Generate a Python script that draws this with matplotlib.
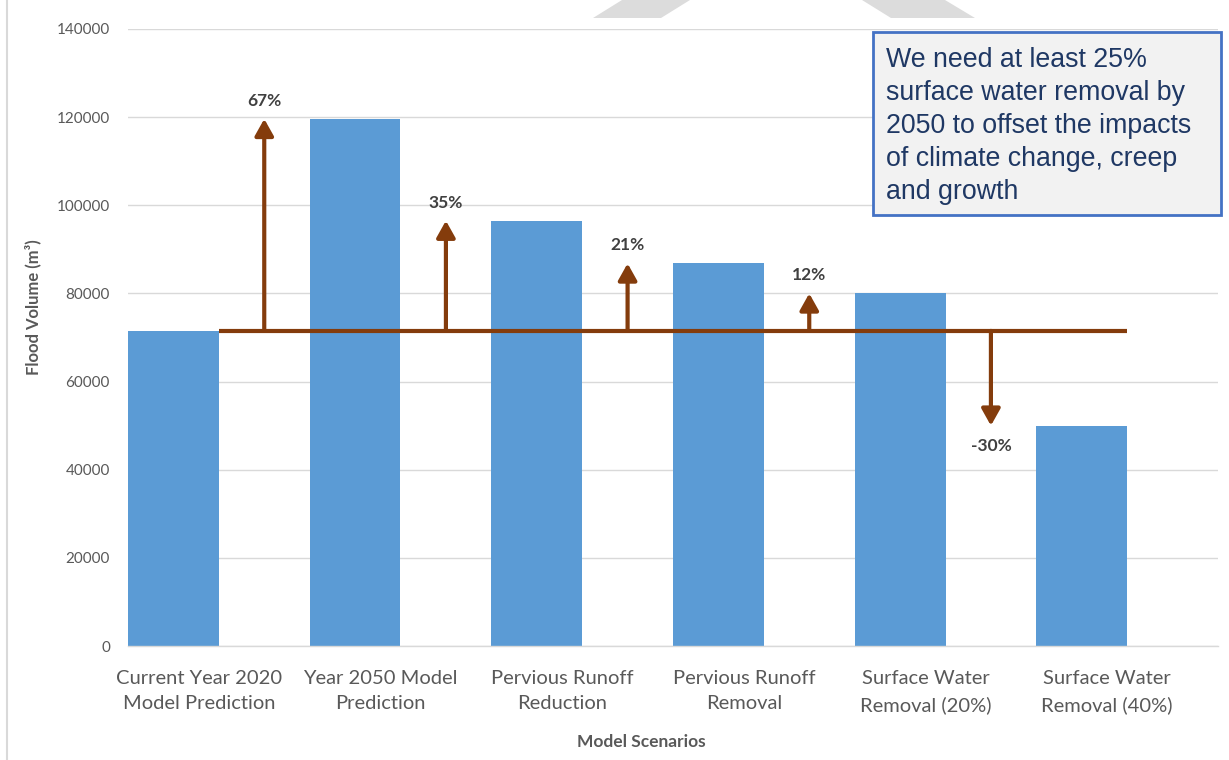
import matplotlib
matplotlib.use("Agg")
import matplotlib.pyplot as plt
from matplotlib.patches import Rectangle, Polygon
from matplotlib.lines import Line2D

# Scenario data
categories = [
    "Current Year 2020\nModel Prediction",
    "Year 2050 Model\nPrediction",
    "Pervious Runoff\nReduction",
    "Pervious Runoff\nRemoval",
    "Surface Water\nRemoval (20%)",
    "Surface Water\nRemoval (40%)",
]
volumes = [71500, 119600, 96500, 86800, 80000, 50000]
y_ticks = [0, 20000, 40000, 60000, 80000, 100000, 120000, 140000]
note_lines = [
    "We need at least 25%",
    "surface water removal by",
    "2050 to offset the impacts",
    "of climate change, creep",
    "and growth",
]

BAR = "#5B9BD5"
BROWN = "#843C0C"
GRID = "#D9D9D9"
TICK = "#595959"
LABEL = "#404040"

W, H = 1229, 760
fig = plt.figure(figsize=(W / 100, H / 100), dpi=100)
fig.patch.set_facecolor("white")


def px(x, y):
    """Pixel position (from top-left) to figure fraction."""
    return x / W, 1 - y / H


ax = fig.add_axes([128 / W, (H - 646) / H, (1218 - 128) / W, (646 - 29) / H])
x = list(range(len(categories)))
ax.bar(x, volumes, width=0.5, color=BAR, zorder=2)
ax.set_xlim(-0.25, 5.75)
ax.set_ylim(0, 140000)

ax.set_yticks(y_ticks)
ax.set_yticklabels([str(v) for v in y_ticks], fontfamily="Lato", fontsize=11, color=TICK)
ax.yaxis.grid(True, color=GRID, lw=1, zorder=0)
ax.set_axisbelow(True)
ax.tick_params(axis="y", length=0, pad=13)

ax.set_xticks([i + 0.14 for i in x])
ax.set_xticklabels(categories, fontfamily="Lato", fontsize=14.5, color=TICK, linespacing=1.62)
ax.tick_params(axis="x", length=0, pad=17)

for s in ("top", "right", "left"):
    ax.spines[s].set_visible(False)
ax.spines["bottom"].set_color(GRID)
ax.spines["bottom"].set_linewidth(1)

# Reference level: current-year volume
base = volumes[0]
ax.hlines(base, 0.25, len(volumes) - 0.75, color=BROWN, lw=3, zorder=3)

# Change arrows between consecutive bars, measured against the baseline
for i, v in enumerate(volumes[1:]):
    xa = i + 0.5
    ax.annotate("", xy=(xa, v), xytext=(xa, base),
                arrowprops=dict(arrowstyle="-|>,head_length=0.5,head_width=0.28",
                                mutation_scale=20, color=BROWN, lw=3,
                                shrinkA=0, shrinkB=0), zorder=4)
    pct = round((v / base - 1) * 100)
    dy = 13 if v >= base else -15
    ax.annotate(f"{pct}%", xy=(xa, v), xytext=(0, dy), textcoords="offset points",
                ha="center", va="center", fontfamily="Lato", fontweight="bold",
                fontsize=12.5, color=LABEL)

# Axis titles
fig.text(*px(33, 307), "Flood Volume (m³)", rotation=90, ha="center", va="center",
         fontfamily="Lato", fontweight="bold", fontsize=12, color=TICK)
fig.text(*px(641, 742), "Model Scenarios", ha="center", va="center",
         fontfamily="Lato", fontweight="bold", fontsize=12.5, color=TICK)

# Call-out box
bx0, by0 = px(873, 215)
bx1, by1 = px(1221, 32)
fig.add_artist(Rectangle((bx0, by0), bx1 - bx0, by1 - by0, transform=fig.transFigure,
                         facecolor="#F2F2F2", edgecolor="#4472C4", lw=2, zorder=5))
fig.text(*px(886, 126), "\n".join(note_lines), ha="left", va="center",
         fontfamily="Liberation Sans", fontsize=19.3, color="#1F3864",
         linespacing=1.36, zorder=6)

# Page decorations: left rule and header shapes
fig.add_artist(Line2D([7 / W, 7 / W], [0, 1], transform=fig.transFigure, color=GRID, lw=1.5))
for pts in ([(622, 0), (690, 0), (661, 18), (593, 18)],
            [(862, 0), (945, 0), (975, 18), (891, 18)]):
    fig.add_artist(Polygon([px(a, b) for a, b in pts], closed=True,
                           transform=fig.transFigure, facecolor="#DCDCDC",
                           edgecolor="none"))

fig.savefig("out.png", dpi=100)
